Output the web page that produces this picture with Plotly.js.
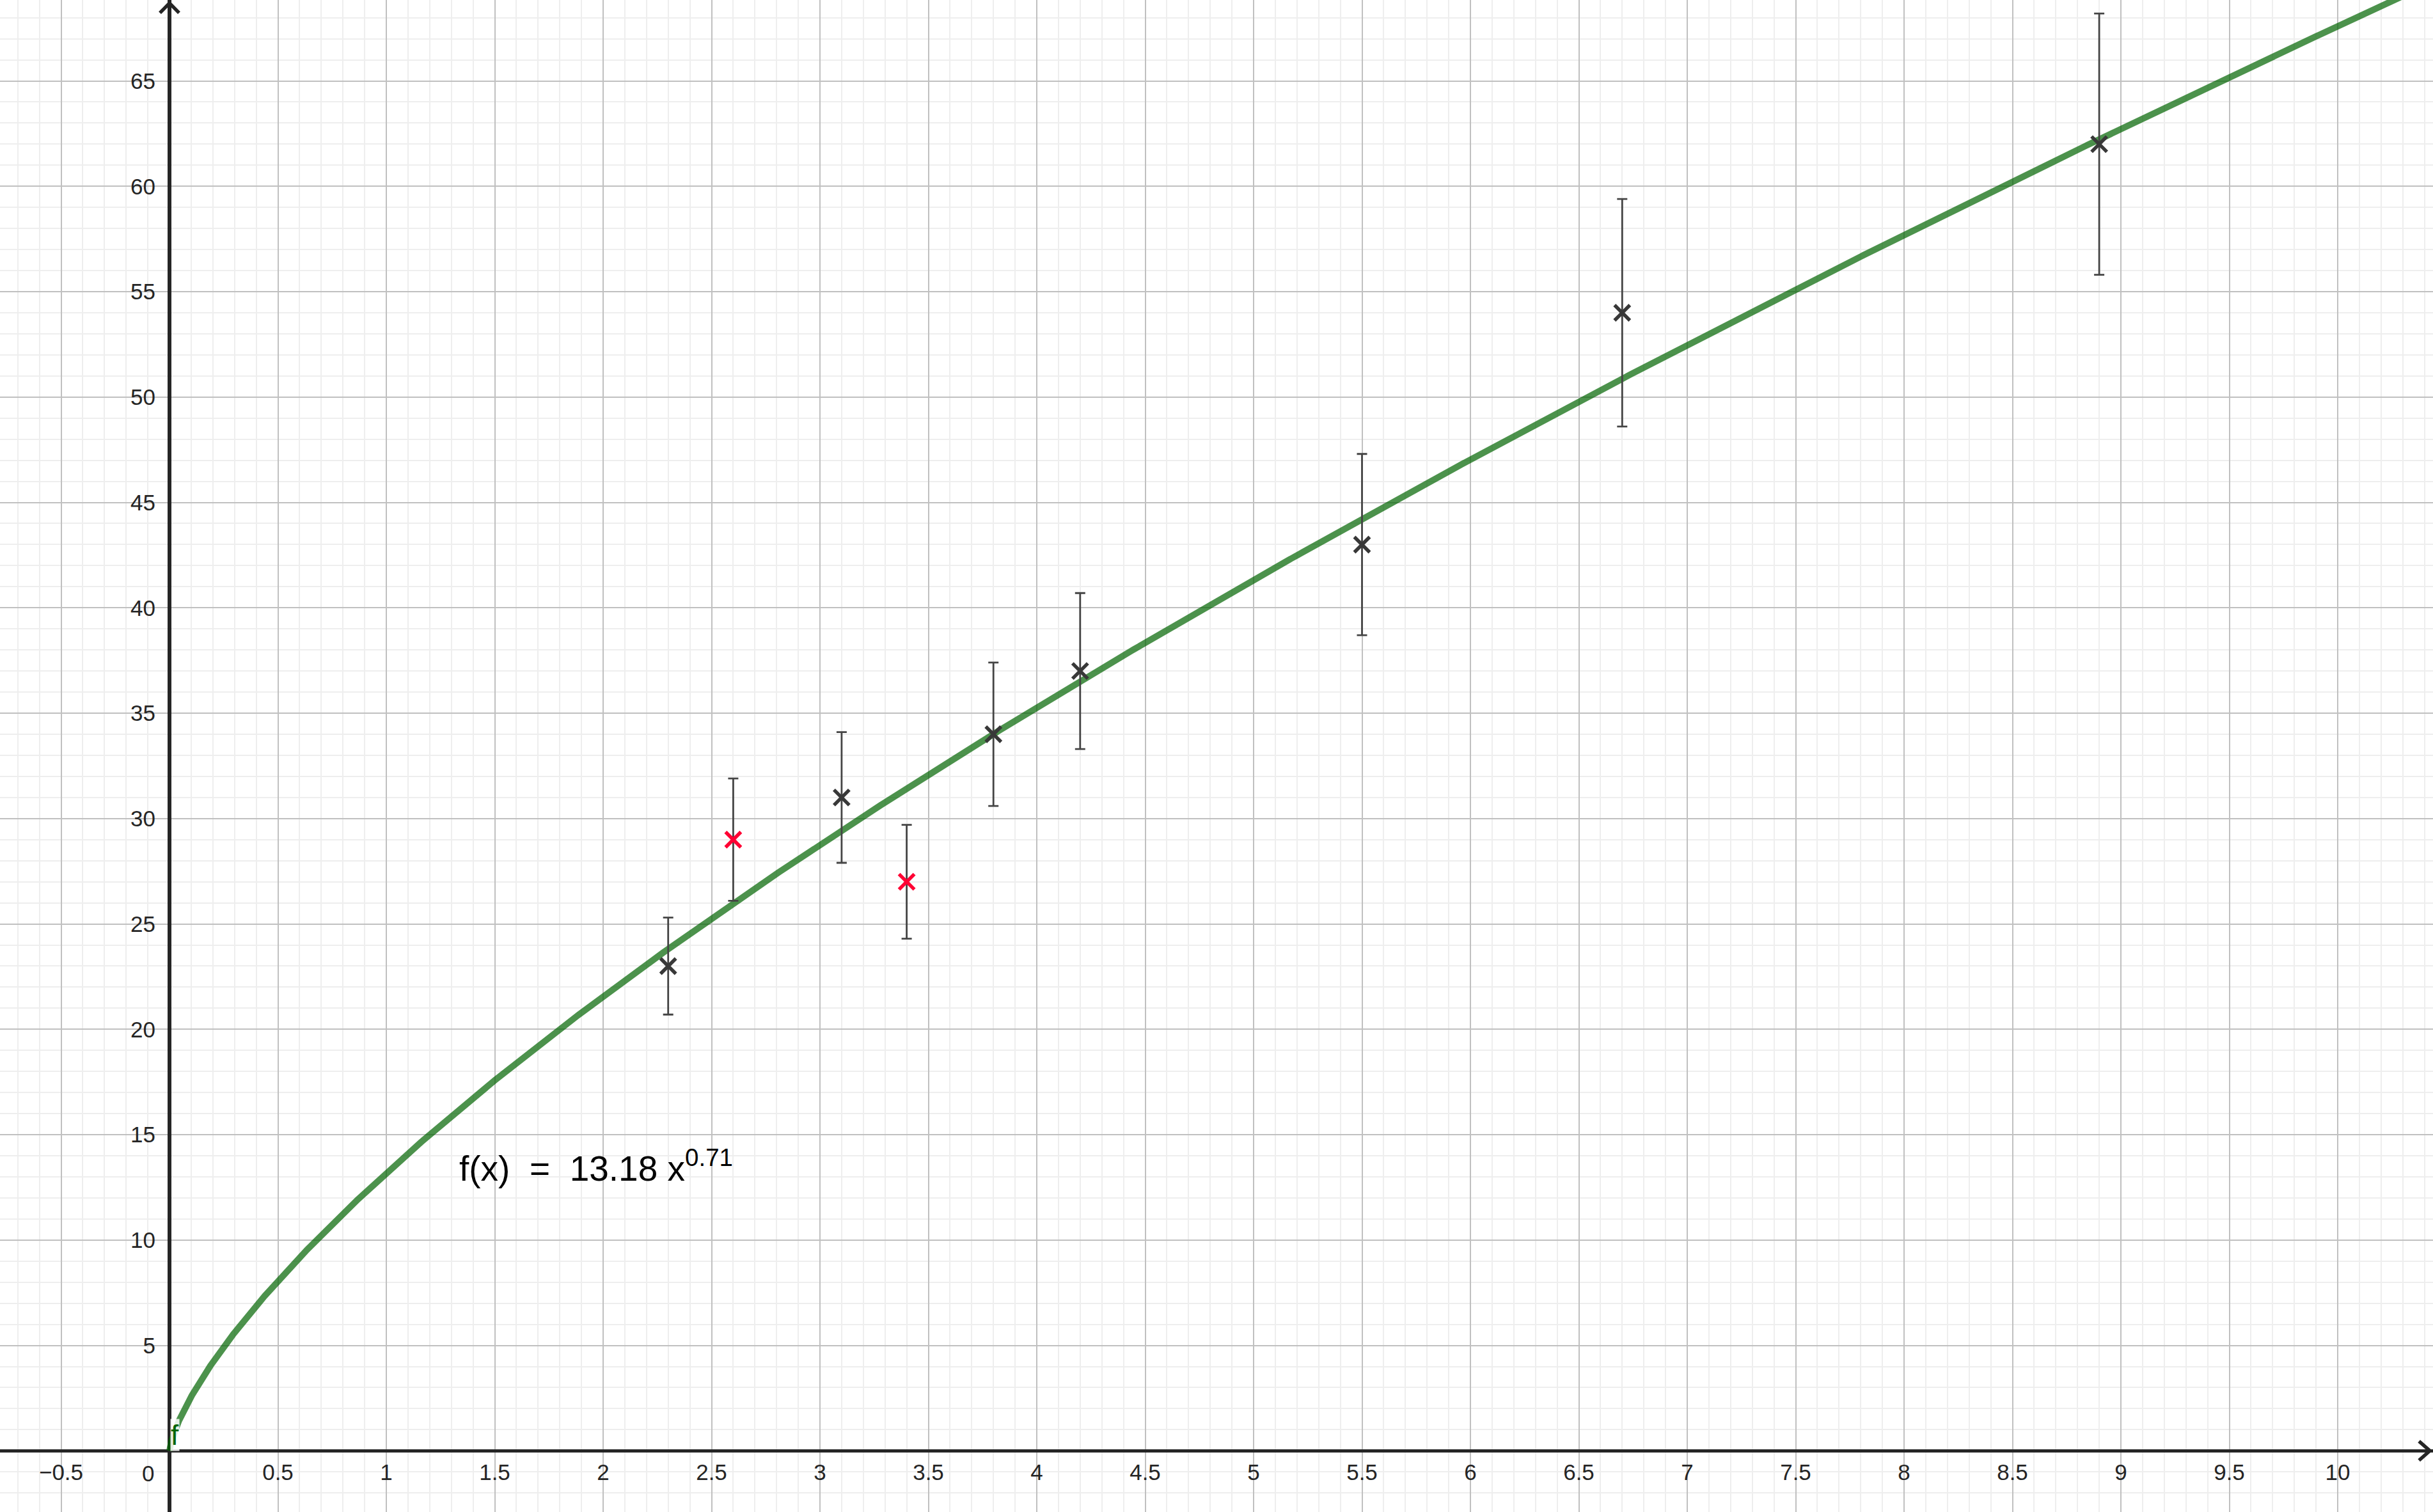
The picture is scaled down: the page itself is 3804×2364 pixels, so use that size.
<!DOCTYPE html>
<html>
<head>
<meta charset="utf-8">
<script src="https://cdn.plot.ly/plotly-3.0.1.min.js"></script>
<style>
  html, body { margin: 0; padding: 0; background: #ffffff; }
  #chart { width: 3804px; height: 2364px; }
</style>
</head>
<body>
<div id="chart"></div>
<script>
// ---- data ----
const measuredX = [2.3, 3.1, 3.8, 4.2, 5.5, 6.7, 8.9];
const measuredY = [23, 31, 34, 37, 43, 54, 62];
const measuredErr = [2.3, 3.1, 3.4, 3.7, 4.3, 5.4, 6.2];

const outlierX = [2.6, 3.4];
const outlierY = [29, 27];
const outlierErr = [2.9, 2.7];

// fitted function shown on the chart: f(x) = 13.18 x^0.71
const fitCoef = 13.18;
const fitExp = 0.71;
const fitLabel = "f(x)  =  13.18 x<sup>0.71</sup>";

const xTickVals = [-0.5, 0.5, 1, 1.5, 2, 2.5, 3, 3.5, 4, 4.5, 5, 5.5, 6, 6.5, 7, 7.5, 8, 8.5, 9, 9.5, 10];
const xTickText = ["\u22120.5", "0.5", "1", "1.5", "2", "2.5", "3", "3.5", "4", "4.5", "5", "5.5", "6", "6.5", "7", "7.5", "8", "8.5", "9", "9.5", "10"];
const yTickVals = [5, 10, 15, 20, 25, 30, 35, 40, 45, 50, 55, 60, 65];
const yTickText = ["5", "10", "15", "20", "25", "30", "35", "40", "45", "50", "55", "60", "65"];

// ---- view window ----
const xRange = [-0.7817, 10.4395];
const yRange = [-2.904, 68.84];

// sample the stated function across the visible domain
const curveX = [];
const curveY = [];
const nSamples = 2000;
for (let i = 0; i <= nSamples; i++) {
  const t = i / nSamples;
  const x = xRange[1] * t * t; // denser near the origin
  curveX.push(x);
  curveY.push(fitCoef * Math.pow(x, fitExp));
}

const axisColor = "#252525";
const tickFont = { family: "Liberation Sans, Arial, sans-serif", size: 35, color: "#252525" };

const traces = [
  {
    type: "scatter", mode: "lines", name: "f",
    x: curveX, y: curveY,
    line: { color: "rgba(0,100,0,0.7)", width: 10 },
    hoverinfo: "skip", showlegend: false
  },
  {
    type: "scatter", mode: "markers", name: "measured",
    x: measuredX, y: measuredY,
    marker: { symbol: "x-thin", size: 24, color: "#383838", line: { color: "#383838", width: 5.5 } },
    error_y: { type: "data", array: measuredErr, visible: true, color: "#444444", thickness: 2.8, width: 8 },
    showlegend: false
  },
  {
    type: "scatter", mode: "markers", name: "outliers",
    x: outlierX, y: outlierY,
    marker: { symbol: "x-thin", size: 24, color: "#ff0033", line: { color: "#ff0033", width: 5.5 } },
    error_y: { type: "data", array: outlierErr, visible: true, color: "#444444", thickness: 2.8, width: 8 },
    showlegend: false
  }
];

const xArrowTip = 10.425, xArrowBack = 10.375, yArrowHalf = 0.455;
const yArrowTip = 68.69, yArrowBack = 68.23, xArrowHalf = 0.0442;

const layout = {
  width: 3804, height: 2364,
  margin: { l: 0, r: 0, t: 0, b: 0, pad: 0 },
  paper_bgcolor: "#ffffff", plot_bgcolor: "#ffffff",
  showlegend: false,
  xaxis: {
    range: xRange, fixedrange: true,
    tickmode: "array", tickvals: xTickVals, ticktext: xTickText,
    showgrid: true, gridcolor: "#c0c0c0", gridwidth: 2,
    minor: { dtick: 0.1, tick0: 0, showgrid: true, gridcolor: "#eeeeee", gridwidth: 2 },
    zeroline: true, zerolinecolor: axisColor, zerolinewidth: 5.5,
    showline: false, ticks: "",
    anchor: "free", position: (0 - yRange[0]) / (yRange[1] - yRange[0]),
    ticklabelstandoff: 10,
    tickfont: tickFont
  },
  yaxis: {
    range: yRange, fixedrange: true,
    tickmode: "array", tickvals: yTickVals, ticktext: yTickText,
    showgrid: true, gridcolor: "#c0c0c0", gridwidth: 2,
    minor: { dtick: 1, tick0: 0, showgrid: true, gridcolor: "#eeeeee", gridwidth: 2 },
    zeroline: true, zerolinecolor: axisColor, zerolinewidth: 5.5,
    showline: false, ticks: "",
    anchor: "free", position: (0 - xRange[0]) / (xRange[1] - xRange[0]),
    ticklabelstandoff: 22,
    tickfont: tickFont
  },
  shapes: [
    {
      type: "path", xref: "x", yref: "y", layer: "above",
      path: "M " + xArrowBack + "," + yArrowHalf + " L " + xArrowTip + ",0 L " + xArrowBack + "," + (-yArrowHalf),
      line: { color: axisColor, width: 5.5 }
    },
    {
      type: "path", xref: "x", yref: "y", layer: "above",
      path: "M " + (-xArrowHalf) + "," + yArrowBack + " L 0," + yArrowTip + " L " + xArrowHalf + "," + yArrowBack,
      line: { color: axisColor, width: 5.5 }
    }
  ],
  annotations: [
    {
      x: 1.33, y: 13.5, xref: "x", yref: "y", xanchor: "left", yanchor: "middle",
      text: fitLabel, showarrow: false,
      font: { family: "Liberation Sans, Arial, sans-serif", size: 55, color: "#000000" }
    },
    {
      x: -0.1003, y: -1.053, xref: "x", yref: "y", xanchor: "center", yanchor: "middle",
      text: "0", showarrow: false, font: tickFont
    },
    {
      x: 0.026, y: 0.75, xref: "x", yref: "y", xanchor: "center", yanchor: "middle",
      text: "f", showarrow: false, bgcolor: "rgba(255,255,255,0.85)", borderpad: 0,
      font: { family: "Liberation Sans, Arial, sans-serif", size: 44, color: "#006400" }
    }
  ]
};

Plotly.newPlot("chart", traces, layout, { staticPlot: true, displayModeBar: false });
</script>
</body>
</html>
